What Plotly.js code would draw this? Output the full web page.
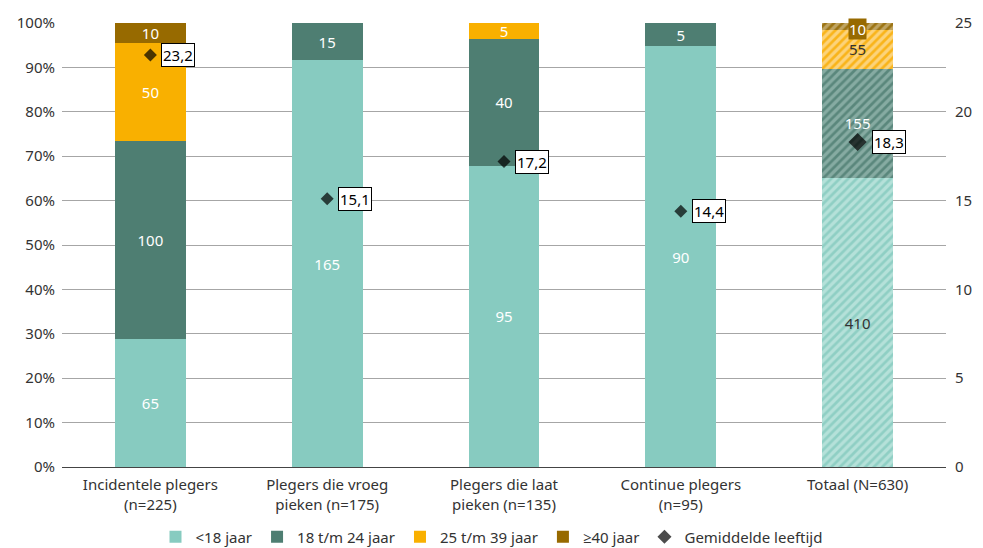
<!DOCTYPE html>
<html>
<head>
<meta charset="utf-8">
<script src="https://cdn.plot.ly/plotly-3.0.1.min.js"></script>
<style>
  html, body { margin: 0; padding: 0; background: #fff; }
  #chart { width: 983px; height: 548px; }
</style>
</head>
<body>
<div id="chart"></div>
<script>
// Daders naar leeftijdsgroep per type pleger

const categories = [
    'Incidentele plegers<br>(n=225)',
    'Plegers die vroeg<br>pieken (n=175)',
    'Plegers die laat<br>pieken (n=135)',
    'Continue plegers<br>(n=95)',
    'Totaal (N=630)'
];

const under18 = [65, 165, 95, 90, 410];
const age18to24 = [100, 15, 40, 5, 155];
const age25to39 = [50, 0, 5, 0, 55];
const age40plus = [10, 0, 0, 0, 10];
const meanAge = [23.2, 15.1, 17.2, 14.4, 18.3];

const groupNames = ['<18 jaar', '18 t/m 24 jaar', '25 t/m 39 jaar', '\u226540 jaar'];
const groupColors = ['#87cbc0', '#4e7e72', '#f9b000', '#976a00'];
const hatchFg = ['#8fcfc4', '#5a877c', '#f9b41a', '#9c7414'];
const hatchBg = ['#b5e1d9', '#86aba2', '#fcd37a', '#bfa462'];
// label colour on the hatched total bar
const totalTextColors = ['#333333', '#ffffff', '#333333', '#ffffff'];

const fontFamily = '"Noto Sans", "Open Sans", sans-serif';
const textColor = '#333333';

function barTrace(values, idx) {
    const last = values.length - 1;
    return {
        type: 'bar',
        name: groupNames[idx],
        x: categories,
        y: values,
        // the ≥40 label on the total bar gets its own boxed annotation
        text: values.map((v, i) => (v === 0 || (idx === 3 && i === last)) ? '' : String(v)),
        textposition: 'inside',
        insidetextanchor: 'middle',
        constraintext: 'none',
        textangle: 0,
        textfont: {
            family: fontFamily,
            size: 15,
            color: values.map((v, i) => i === last ? totalTextColors[idx] : '#ffffff')
        },
        marker: {
            color: groupColors[idx],
            line: { width: 0 },
            pattern: {
                shape: values.map((v, i) => i === last ? '/' : ''),
                fgcolor: hatchFg[idx],
                bgcolor: hatchBg[idx],
                size: 6,
                solidity: 0.45
            }
        },
        hoverinfo: 'skip'
    };
}

const traces = [
    barTrace(under18, 0),
    barTrace(age18to24, 1),
    barTrace(age25to39, 2),
    barTrace(age40plus, 3),
    {
        type: 'scatter',
        mode: 'markers',
        name: 'Gemiddelde leeftijd',
        x: categories,
        y: meanAge,
        yaxis: 'y2',
        marker: {
            symbol: 'diamond',
            color: '#000000',
            line: { width: 0 },
            size: meanAge.map((v, i) => i === meanAge.length - 1 ? 14 : 10)
        },
        hoverinfo: 'skip'
    }
];

// boxed labels next to the diamonds
const annotations = meanAge.map((v, i) => ({
    x: categories[i],
    y: v,
    xref: 'x',
    yref: 'y2',
    text: v.toFixed(1).replace('.', ','),
    showarrow: false,
    xanchor: 'left',
    yanchor: 'middle',
    xshift: i === meanAge.length - 1 ? 14 : 11,
    bgcolor: '#ffffff',
    bordercolor: '#000000',
    borderwidth: 1,
    borderpad: 1,
    font: { family: fontFamily, size: 15, color: '#000000' }
}));

// ≥40 label on the total bar, drawn as a small brown tag at the top of the bar
const totalSum = under18[4] + age18to24[4] + age25to39[4] + age40plus[4];
annotations.push({
    x: categories[4],
    y: 100 - (age40plus[4] / totalSum) * 50,
    xref: 'x',
    yref: 'y',
    text: String(age40plus[4]),
    showarrow: false,
    yshift: -2,
    bgcolor: groupColors[3],
    borderpad: 0,
    font: { family: fontFamily, size: 15, color: '#ffffff' }
});

const layout = {
    width: 983,
    height: 548,
    margin: { l: 62, r: 37, t: 23, b: 81, autoexpand: false },
    paper_bgcolor: '#ffffff',
    plot_bgcolor: '#ffffff',
    font: { family: fontFamily, size: 15, color: textColor },
    barmode: 'stack',
    barnorm: 'percent',
    bargap: 0.6,
    showlegend: true,
    legend: {
        orientation: 'h',
        x: 0.5,
        xanchor: 'center',
        xref: 'container',
        y: 0.02,
        yanchor: 'middle',
        yref: 'container',
        traceorder: 'normal',
        itemwidth: 30,
        tracegroupgap: 0,
        font: { family: fontFamily, size: 15, color: textColor }
    },
    xaxis: {
        type: 'category',
        showgrid: false,
        showline: true,
        linecolor: '#444444',
        linewidth: 1,
        ticks: '',
        automargin: false,
        ticklabelstandoff: 4,
        tickfont: { family: fontFamily, size: 15, color: textColor },
        fixedrange: true
    },
    yaxis: {
        range: [0, 100],
        dtick: 10,
        ticksuffix: '%',
        showgrid: true,
        gridcolor: '#a6a6a6',
        gridwidth: 1,
        zeroline: false,
        showline: false,
        ticks: '',
        automargin: false,
        ticklabelstandoff: 6,
        tickfont: { family: fontFamily, size: 15, color: textColor },
        fixedrange: true
    },
    yaxis2: {
        overlaying: 'y',
        side: 'right',
        range: [0, 25],
        dtick: 5,
        showgrid: false,
        zeroline: false,
        showline: false,
        ticks: '',
        automargin: false,
        ticklabelstandoff: 8,
        tickfont: { family: fontFamily, size: 15, color: textColor },
        fixedrange: true
    },
    annotations: annotations
};

Plotly.newPlot('chart', traces, layout, { displayModeBar: false, staticPlot: true });
</script>
</body>
</html>
